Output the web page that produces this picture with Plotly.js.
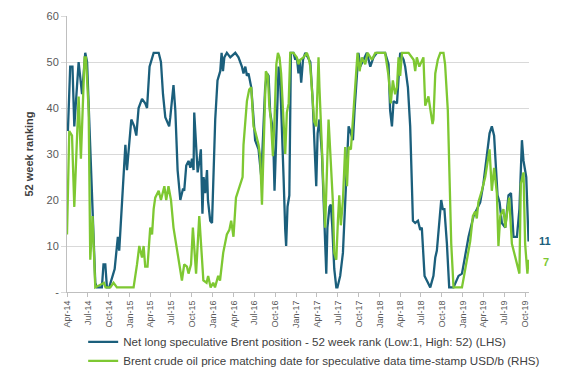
<!DOCTYPE html>
<html>
<head>
<meta charset="utf-8">
<script src="https://cdn.plot.ly/plotly-3.0.1.min.js"></script>
<style>html,body{margin:0;padding:0;background:#fff;}#chart{width:565px;height:380px;}</style>
</head>
<body>
<div id="chart"></div>
<script>
const seriesNames = [
  'Net long speculative Brent position - 52 week rank (Low:1, High: 52) (LHS)',
  'Brent crude oil price matching date for speculative data time-stamp USD/b (RHS)'
];

// [date, 52-week rank]
const bluePoints = [
  ['2014-04-05',35],['2014-04-15',49],['2014-04-25',49],['2014-05-03',36],['2014-05-22',50],['2014-06-06',43],['2014-06-20',52],['2014-06-28',50],
  ['2014-08-03',2],['2014-08-10',1],['2014-09-01',1],['2014-09-08',6],['2014-09-16',6],['2014-09-23',1],['2014-10-03',1],['2014-10-15',3],['2014-10-27',5],
  ['2014-11-10',12],['2014-11-16',9],['2014-12-13',32],['2014-12-20',26.5],
  ['2015-01-08',37.5],['2015-01-21',36],['2015-01-30',34],['2015-02-09',40],['2015-02-24',42],['2015-03-10',41],['2015-03-18',40],['2015-03-29',49],
  ['2015-04-16',52],['2015-05-08',52],['2015-05-18',50],['2015-05-27',43],['2015-06-06',38],['2015-06-16',37],['2015-06-23',36],['2015-06-28',38],
  ['2015-07-12',45],['2015-07-20',39.5],['2015-07-30',26.5],['2015-08-11',20],['2015-08-23',22.5],['2015-08-28',22],['2015-09-06',27.5],['2015-09-16',28.5],
  ['2015-09-24',27],['2015-10-01',29],['2015-10-08',26.5],['2015-10-11',39],['2015-10-20',32],['2015-10-26',26],['2015-11-03',28.5],['2015-11-09',31],
  ['2015-11-16',17],['2015-11-21',25],['2015-11-28',21.5],['2015-12-06',26.5],['2015-12-10',20],['2015-12-20',15.5],['2015-12-28',15],
  ['2016-01-04',26.5],['2016-01-11',37.5],['2016-01-21',46],['2016-02-02',48],['2016-02-08',52],['2016-02-14',48],['2016-02-20',51],['2016-03-02',52],
  ['2016-03-17',51],['2016-04-08',52],['2016-04-22',51],['2016-05-07',49],['2016-05-14',47.5],['2016-05-22',49],['2016-05-29',47],['2016-06-05',47.5],
  ['2016-06-17',44.5],['2016-07-04',33],['2016-07-19',31],['2016-07-31',25],['2016-08-17',44.5],['2016-08-25',47.5],['2016-09-01',47],['2016-09-08',39],
  ['2016-09-16',36.5],['2016-09-23',30],['2016-09-27',22],['2016-10-03',31.5],['2016-10-08',41],['2016-10-15',49],['2016-10-22',46],['2016-10-30',36.5],
  ['2016-11-06',24.5],['2016-11-13',13.5],['2016-11-17',10],['2016-11-23',18.5],['2016-12-01',21],['2016-12-08',52],['2016-12-19',52],['2016-12-27',50.5],
  ['2017-01-03',51],['2017-01-10',47.5],['2017-01-15',50.5],['2017-01-22',45.5],['2017-01-30',50.5],['2017-02-09',52],['2017-02-19',51],['2017-03-03',50],
  ['2017-03-13',42],['2017-03-20',34.5],['2017-03-29',23],['2017-04-04',34.5],['2017-04-12',37.5],['2017-04-23',30],['2017-04-30',21],['2017-05-07',10],
  ['2017-05-12',4],['2017-05-17',14],['2017-05-26',18.5],['2017-06-01',19],['2017-06-07',14.5],['2017-06-16',5],['2017-06-25',1],['2017-06-30',1],
  ['2017-07-12',3.5],['2017-07-24',8.5],['2017-08-03',18.5],['2017-08-11',28],['2017-08-18',36],['2017-08-28',34.5],['2017-09-06',33],['2017-09-13',39.5],
  ['2017-09-23',48],['2017-09-30',52],['2017-10-08',49],['2017-10-22',50.5],['2017-11-06',52],['2017-11-21',49],['2017-12-05',51],['2017-12-20',52],
  ['2018-01-25',52],['2018-02-09',49.5],['2018-02-16',39.5],['2018-02-24',36],['2018-03-03',41.5],['2018-03-18',41],['2018-03-25',47],['2018-04-01',52],
  ['2018-04-16',50.5],['2018-04-23',49],['2018-05-05',44.5],['2018-05-15',36],['2018-05-27',15.5],['2018-06-06',15],['2018-06-18',15.5],['2018-06-28',13.5],
  ['2018-07-05',14],['2018-07-17',3.5],['2018-07-27',2.5],['2018-08-11',1],['2018-08-25',3.5],['2018-09-02',7.5],['2018-09-09',9],['2018-09-28',20],
  ['2018-10-05',18],['2018-10-12',18],['2018-10-23',10.5],['2018-11-02',1],['2018-11-21',1],['2018-12-13',3.5],['2018-12-28',4],
  ['2019-01-11',7.5],['2019-01-26',12],['2019-02-17',16.5],['2019-03-18',19.5],['2019-04-01',23.5],['2019-04-16',30],['2019-04-28',34.5],['2019-05-08',36],
  ['2019-05-18',34],['2019-06-02',21],['2019-06-11',19.5],['2019-06-21',15],['2019-07-06',14],['2019-07-20',21],['2019-07-31',21.5],['2019-08-11',12],
  ['2019-08-26',12],['2019-09-06',18],['2019-09-17',33],['2019-09-24',28.5],['2019-10-06',25],['2019-10-16',11]
];

// [date, Brent price series plotted on the same 0-60 scale]
const greenPoints = [
  ['2014-04-01',12.5],['2014-04-11',35],['2014-04-23',34],['2014-05-03',18.5],['2014-05-22',42.5],['2014-06-01',29],['2014-06-17',51],['2014-06-23',51],
  ['2014-07-05',39.5],['2014-07-12',7],['2014-07-22',16.5],['2014-07-30',6],['2014-08-03',1],['2014-09-10',2],['2014-09-17',1],['2014-10-08',1],
  ['2014-10-22',2],['2014-11-06',1],['2015-01-18',1],['2015-02-02',6],['2015-02-12',10],['2015-02-24',7.5],['2015-03-03',10],['2015-03-10',5.5],
  ['2015-03-20',5.5],['2015-04-01',14],['2015-04-09',12.5],['2015-04-16',18],['2015-04-23',20.5],['2015-05-08',22],['2015-05-18',20],['2015-06-02',23],
  ['2015-06-10',20],['2015-06-20',23],['2015-07-01',20],['2015-07-12',14],['2015-07-20',11.5],['2015-08-03',7],['2015-08-18',2.5],['2015-08-28',6],
  ['2015-09-09',5.5],['2015-09-16',4],['2015-09-27',6],['2015-10-05',14],['2015-10-11',8.5],['2015-10-19',4],['2015-11-02',16.5],['2015-11-13',7],
  ['2015-11-20',2.5],['2015-12-04',2],['2015-12-11',3.5],['2015-12-22',1],['2016-01-02',2],['2016-01-10',1],['2016-01-24',3.5],['2016-02-01',2.5],
  ['2016-02-08',5.5],['2016-02-15',8.5],['2016-03-02',12.5],['2016-03-13',13.5],['2016-03-21',15.5],['2016-03-31',12],['2016-04-11',20.5],['2016-04-18',21.5],
  ['2016-04-30',23.5],['2016-05-10',25],['2016-05-14',32],['2016-05-22',36.5],['2016-05-29',41.5],['2016-06-08',44],['2016-06-17',44.5],['2016-06-27',36],
  ['2016-07-04',35],['2016-07-19',32],['2016-07-26',29.5],['2016-08-03',19],['2016-08-10',30],['2016-08-20',48],['2016-08-29',47],['2016-09-04',40.5],
  ['2016-09-11',37.5],['2016-09-20',29.5],['2016-09-27',37.5],['2016-10-05',49.5],['2016-10-12',52],['2016-10-19',51],['2016-10-26',47.5],['2016-11-06',35],
  ['2016-11-13',30],['2016-11-20',39],['2016-11-28',41],['2016-12-05',52],['2016-12-19',52],['2017-01-03',51],['2017-01-10',49.5],['2017-01-18',50.5],
  ['2017-02-01',51],['2017-02-16',52],['2017-02-23',51],['2017-03-03',49],['2017-03-10',44.5],['2017-03-20',37],['2017-03-29',36],['2017-04-08',51],
  ['2017-04-12',44.5],['2017-04-23',30],['2017-04-30',19.5],['2017-05-07',14],['2017-05-22',37.5],['2017-06-01',26.5],['2017-06-10',19.5],['2017-06-16',8.5],
  ['2017-06-25',7],['2017-07-02',15.5],['2017-07-08',21],['2017-07-15',14.5],['2017-07-24',20],['2017-08-03',31.5],['2017-08-11',23],['2017-08-18',31.5],
  ['2017-08-28',31],['2017-09-08',39],['2017-09-20',48],['2017-09-26',52],['2017-10-05',48],['2017-10-15',51],['2017-10-30',49.5],['2017-11-09',52],
  ['2017-11-28',50.5],['2017-12-13',52],['2018-01-25',52],['2018-02-09',47],['2018-02-19',41],['2018-02-28',46],['2018-03-10',43],['2018-03-18',44.5],
  ['2018-03-25',51],['2018-04-01',47],['2018-04-09',52],['2018-05-08',52],['2018-05-30',50.5],['2018-06-06',48],['2018-06-13',51],['2018-06-24',49],
  ['2018-07-12',51],['2018-07-20',40.5],['2018-08-03',42.5],['2018-08-21',36.5],['2018-08-25',37.5],['2018-09-02',47.5],['2018-09-13',50.5],['2018-09-24',52],
  ['2018-10-08',52],['2018-10-15',49.5],['2018-10-27',39.5],['2018-11-03',25],['2018-11-11',10.5],['2018-11-21',1],['2018-12-28',1],['2019-01-08',4],
  ['2019-01-19',7.5],['2019-02-02',11],['2019-02-14',16.5],['2019-02-24',17.5],['2019-03-03',16],['2019-03-10',19.5],['2019-03-25',22],['2019-04-09',25],
  ['2019-04-28',31],['2019-05-08',22],['2019-05-18',27],['2019-05-30',21.5],['2019-06-06',10],['2019-06-14',16.5],['2019-06-28',18],['2019-07-06',14],
  ['2019-07-16',18],['2019-07-23',20.5],['2019-08-04',10.5],['2019-08-11',9],['2019-08-26',6],['2019-09-06',4],['2019-09-12',23.5],['2019-09-24',26],
  ['2019-10-01',10.5],['2019-10-11',4],['2019-10-16',7]
];

const yTickVals = [0,10,20,30,40,50,60];
const yTickText = ['-','10','20','30','40','50','60'];

const blueColor = '#1b5f7c';
const greenColor = '#7ec832';
const fontFam = '"Liberation Sans", Arial, sans-serif';

const blueDates = bluePoints.map(p => p[0]), blueValues = bluePoints.map(p => p[1]);
const greenDates = greenPoints.map(p => p[0]), greenValues = greenPoints.map(p => p[1]);

const traces = [
  {x: blueDates, y: blueValues, type: 'scatter', mode: 'lines', name: seriesNames[0],
   line: {color: blueColor, width: 2.3}},
  {x: greenDates, y: greenValues, type: 'scatter', mode: 'lines', name: seriesNames[1],
   line: {color: greenColor, width: 2.3}}
];

const lastB = blueValues[blueValues.length-1];
const lastG = greenValues[greenValues.length-1];

const layout = {
  width: 565, height: 380,
  margin: {l: 67, r: 36, t: 16, b: 88, autoexpand: false},
  paper_bgcolor: '#ffffff', plot_bgcolor: '#ffffff',
  font: {family: fontFam, size: 10, color: '#595959'},
  showlegend: true,
  legend: {orientation: 'v', x: 0.035, y: -0.128, xanchor: 'left', yanchor: 'top', itemwidth: 30,
           bgcolor: 'rgba(0,0,0,0)', font: {family: fontFam, size: 11.6, color: '#404040'}},
  xaxis: {type: 'date', range: ['2014-04-01', '2019-10-18'], tick0: '2014-04-01', dtick: 'M3',
          tickformat: '%b-%y', tickangle: -90, ticks: 'outside', ticklen: 4, tickcolor: '#bfbfbf',
          showline: true, linecolor: '#bfbfbf', linewidth: 1, showgrid: false, zeroline: false,
          automargin: false, tickfont: {family: fontFam, size: 9, color: '#595959'}},
  yaxis: {range: [0, 60], tickvals: yTickVals, ticktext: yTickText, ticks: 'outside', ticklen: 5,
          tickcolor: '#d9d9d9', showgrid: true, gridcolor: '#d9d9d9', gridwidth: 1,
          showline: true, linecolor: '#bfbfbf', zeroline: false, automargin: false,
          tickfont: {family: fontFam, size: 11, color: '#595959'},
          title: {text: '<b>52 week ranking</b>', font: {family: fontFam, size: 11, color: '#404040'}, standoff: 10}},
  annotations: [
    {x: blueDates[blueDates.length-1], y: lastB, xref: 'x', yref: 'y', text: '<b>' + lastB + '</b>',
     showarrow: false, xanchor: 'left', xshift: 8, font: {family: fontFam, size: 11, color: blueColor}},
    {x: greenDates[greenDates.length-1], y: lastG, xref: 'x', yref: 'y', text: '<b>' + lastG + '</b>',
     showarrow: false, xanchor: 'left', xshift: 12, yshift: -2, font: {family: fontFam, size: 11, color: greenColor}}
  ]
};

Plotly.newPlot('chart', traces, layout, {displayModeBar: false, staticPlot: true});
</script>
</body>
</html>
